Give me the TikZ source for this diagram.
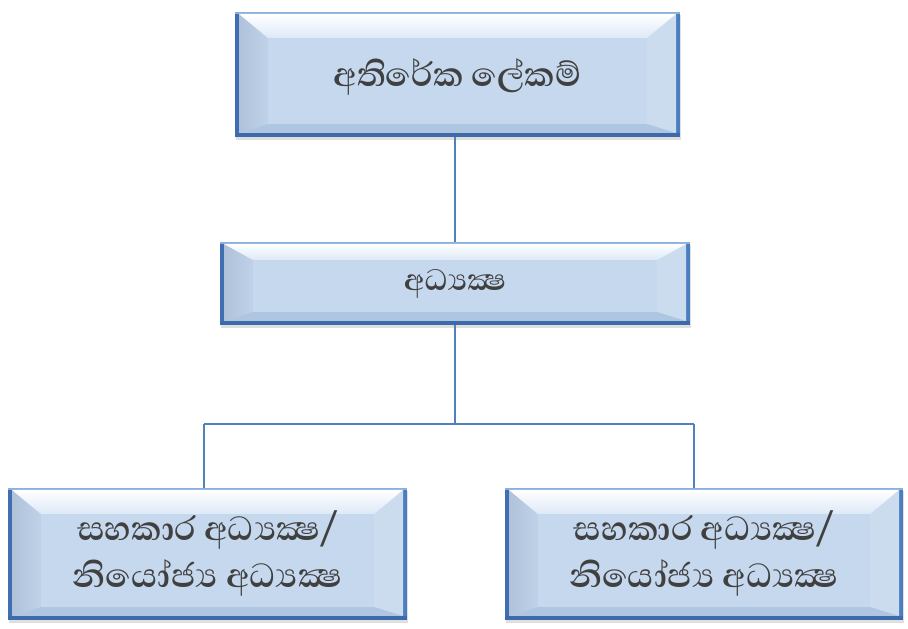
\documentclass[tikz,border=0pt]{standalone}
\usepackage{fontspec}
\usetikzlibrary{calc,shadows}
\newfontfamily\sinhala[Script=Sinhala]{Abhaya Libre}
\definecolor{face}{HTML}{C6D8EE}
\definecolor{frameL}{HTML}{3F6FB2}
\definecolor{frameR}{HTML}{4A7EC0}
\definecolor{frameB}{HTML}{3D6BAA}
\definecolor{frameT}{HTML}{8AB0DE}
\definecolor{bevTop}{HTML}{DDE9F7}
\definecolor{bevL}{HTML}{AFC2DA}
\definecolor{bevLi}{HTML}{C0D2E8}
\definecolor{bevR}{HTML}{CCDCEF}
\definecolor{bevB}{HTML}{AFC6E2}
\definecolor{txt}{HTML}{404040}
\definecolor{link}{HTML}{4F81BD}
\tikzset{
  bevelbox/.style args={#1/#2/#3}{
    rectangle, inner sep=0pt, fill=face, draw=none,
    minimum width=#1, minimum height=#2,
    drop shadow={opacity=0.25, shadow xshift=1pt, shadow yshift=-3pt},
    text=txt, font=\sinhala\bfseries, align=center,
    path picture={
      \path (path picture bounding box.north west) coordinate (pa)
            (path picture bounding box.north east) coordinate (pb)
            (path picture bounding box.south east) coordinate (pc)
            (path picture bounding box.south west) coordinate (pd);
      % frame strips
      \fill[frameL] (pa) rectangle ($(pd)+(4,0)$);
      \fill[frameR] (pb) rectangle ($(pc)+(-4,0)$);
      \fill[frameB] (pd) rectangle ($(pc)+(0,4)$);
      \fill[frameT] (pa) rectangle ($(pb)+(0,-2)$);
      % inner rectangle corners
      \coordinate (ia) at ($(pa)+(4,-2)$);
      \coordinate (ib) at ($(pb)+(-4,-2)$);
      \coordinate (ic) at ($(pc)+(-4,4)$);
      \coordinate (id) at ($(pd)+(4,4)$);
      % inner face corners
      \coordinate (fa) at ($(ia)+(29,-#3)$);
      \coordinate (fb) at ($(ib)+(-29,-#3)$);
      \coordinate (fc) at ($(ic)+(-29,9)$);
      \coordinate (fd) at ($(id)+(29,9)$);
      \shade[left color=bevL, right color=bevLi] (ia) -- (fa) -- (fd) -- (id) -- cycle;
      \fill[bevR] (ib) -- (fb) -- (fc) -- (ic) -- cycle;
      \fill[bevB] (id) -- (fd) -- (fc) -- (ic) -- cycle;
      \shade[top color=white, bottom color=bevTop] (ia) -- (ib) -- (fb) -- (fa) -- cycle;
      \fill[face] (fa) rectangle (fc);
    }
  },
  linkline/.style={draw=link, line width=1.4pt}
}
\begin{document}
\begin{tikzpicture}[x=1pt,y=1pt]
\useasboundingbox (0,0) rectangle (908,629);
\node[bevelbox={445pt/125pt/24}, font=\sinhala\bfseries\fontsize{43}{50}\selectfont, text depth=4pt] (top) at (457.5,554.5) {අතිරේක ලේකම්};
\node[bevelbox={470pt/83pt/16}, font=\sinhala\bfseries\fontsize{38}{44}\selectfont] (mid) at (455,345.5) {අධ්^^^^200dයක්^^^^200dෂ};
\node[bevelbox={399pt/132pt/24}, font=\sinhala\bfseries\fontsize{43}{47}\selectfont] (bl) at (207.5,75) {සහකාර අධ්^^^^200dයක්^^^^200dෂ/\\නියෝජ්^^^^200dය අධ්^^^^200dයක්^^^^200dෂ};
\node[bevelbox={398pt/132pt/24}, font=\sinhala\bfseries\fontsize{43}{47}\selectfont] (br) at (704,75) {සහකාර අධ්^^^^200dයක්^^^^200dෂ/\\නියෝජ්^^^^200dය අධ්^^^^200dයක්^^^^200dෂ};
\coordinate (jl) at (204,205);
\coordinate (jr) at (694,205);
\draw[linkline] (mid.north |- top.south) -- (mid.north);
\draw[linkline] (mid.south) -- (mid.south |- jl);
\draw[linkline] (jl) -- (jr);
\draw[linkline] (jl) -- (jl |- bl.north);
\draw[linkline] (jr) -- (jr |- br.north);
\end{tikzpicture}
\end{document}
